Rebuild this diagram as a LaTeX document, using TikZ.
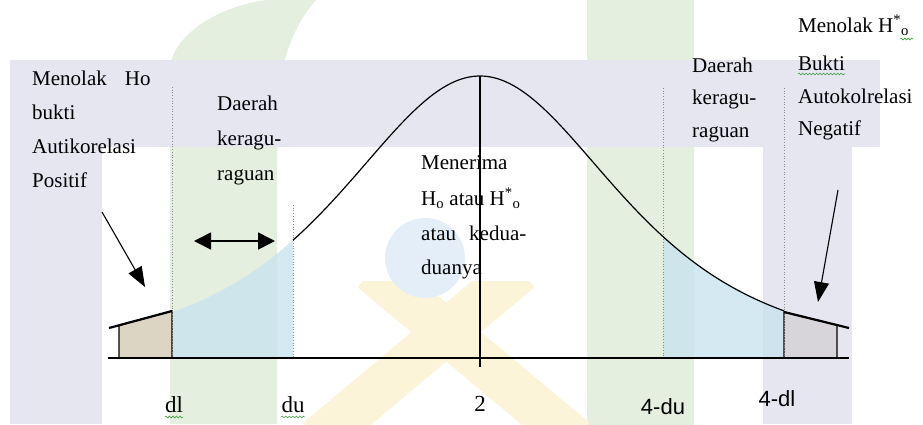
\documentclass[tikz,border=0pt]{standalone}
\usepackage{fontspec}
\setmainfont{Liberation Serif}
\newfontfamily\sansf{Liberation Sans}
\usetikzlibrary{arrows.meta,decorations.pathmorphing}
\definecolor{lav}{HTML}{E6E6F1}
\definecolor{wgreen}{HTML}{E4EFE0}
\definecolor{wyellow}{HTML}{FBF4D8}
\definecolor{wblue}{HTML}{E4EEF8}
\definecolor{doubtfill}{HTML}{C9E3EE}
\definecolor{lbox}{HTML}{DCD5C4}
\definecolor{rbox}{HTML}{D7D5D9}
\definecolor{spell}{HTML}{3C9A3C}
\begin{document}
\begin{tikzpicture}[x=1pt,y=-1pt,
  txt/.style={font=\fontsize{21}{25}\selectfont, anchor=base west, inner sep=0pt},
  lbl/.style={font=\fontsize{23}{27}\selectfont, anchor=base, inner sep=0pt},
  slbl/.style={font=\sansf\fontsize{22}{26}\selectfont, anchor=base, inner sep=0pt},
  axisline/.style={line width=1.3pt},
  guide/.style={dotted, black!45, line width=0.7pt},
  curveline/.style={line width=1.2pt},
  slant/.style={line width=2.2pt},
  boxedge/.style={line width=1.2pt},
  bigarrow/.style={line width=1.1pt, -{Triangle[length=20pt,width=15pt]}},
  dblarrow/.style={line width=1.6pt, {Triangle[length=17pt,width=17pt]}-{Triangle[length=17pt,width=17pt]}},
  wavy/.style={spell, line width=0.6pt, decorate, decoration={snake, amplitude=0.9pt, segment length=3.5pt}}
]
\useasboundingbox (0,0) rectangle (923,424);
% ---------- faint watermark background ----------
\begin{scope}
\clip (0,0) rectangle (923,424);
\fill[wgreen] (170,424) -- (170,70) .. controls (170,35) and (225,-2) .. (292,-2)
  -- (318,-2) .. controls (292,25) and (277,70) .. (277,120) -- (277,424) -- cycle;
\fill[wgreen, rounded corners=18pt] (587,-30) rectangle (694,460);
\fill[lav] (10,60) rectangle (880,147);
\fill[lav] (10,60) rectangle (102,424);
\fill[lav] (763,60) rectangle (852,424);
\begin{scope}
\clip (0,281) rectangle (923,424);
\draw[wyellow, line width=45pt] (372,270) -- (575,440);
\draw[wyellow, line width=45pt] (520,270) -- (318,440);
\end{scope}
\fill[wblue] (425,258) circle (40);
\end{scope}
% ---------- shaded regions ----------
\fill[doubtfill, opacity=0.8] (172,358) -- plot[domain=172:293, samples=40] (\x, {358-282/(1+((\x-480)/252.8)^2)^2}) -- (293,358) -- cycle;
\fill[doubtfill, opacity=0.8] (663,358) -- plot[domain=663:784, samples=40] (\x, {358-282/(1+((\x-480)/252.8)^2)^2}) -- (784,358) -- cycle;
\filldraw[fill=lbox, boxedge] (119,358) -- (119,325.3) -- (172,311) -- (172,358) -- cycle;
\filldraw[fill=rbox, boxedge] (784,358) -- (784,312) -- (837,325) -- (837,358) -- cycle;
% ---------- guides ----------
\coordinate (dlTop) at (172,87);
\coordinate (dlBot) at (172,358);
\coordinate (duTop) at (293,205);
\coordinate (duBot) at (293,358);
\coordinate (mduTop) at (663,88);
\coordinate (mduBot) at (663,358);
\coordinate (mdlTop) at (784,88);
\coordinate (mdlBot) at (784,358);
\draw[guide] (dlTop) -- (dlBot);
\draw[guide] (duTop) -- (duBot);
\draw[guide] (mduTop) -- (mduBot);
\draw[guide] (mdlTop) -- (mdlBot);
% ---------- curve and axis ----------
\coordinate (axL) at (108,358);
\coordinate (axR) at (849,358);
\draw[axisline] (axL) -- (axR);
\draw[curveline] plot[domain=293:784, samples=150] (\x, {358-282/(1+((\x-480)/252.8)^2)^2});
\coordinate (tailL) at (109,328);
\coordinate (tailLdl) at (172,311);
\coordinate (tailR) at (849,328);
\coordinate (tailRdl) at (784,312);
\draw[slant] (tailL) -- (tailLdl);
\draw[slant] (tailRdl) -- (tailR);
\coordinate (peak) at (480,76);
\coordinate (tick) at (480,367);
\draw[line width=1.1pt] (peak) -- (tick);
% ---------- arrows ----------
\coordinate (aLs) at (102,212);
\coordinate (aLe) at (145,287);
\draw[bigarrow] (aLs) -- (aLe);
\coordinate (aRs) at (838,190);
\coordinate (aRe) at (818,302);
\draw[bigarrow] (aRs) -- (aRe);
\coordinate (dA) at (194,241);
\coordinate (dB) at (275,241);
\draw[dblarrow] (dA) -- (dB);
% ---------- texts ----------
\node[txt] (l1) at (32,85) {Menolak\hspace{18pt}Ho};
\node[txt] (l2) at (32,119) {bukti};
\node[txt] (l3) at (32,153) {Autikorelasi};
\node[txt] (l4) at (32,187) {Positif};
\node[txt] (d1) at (217,110) {Daerah};
\node[txt] (d2) at (217,145) {keragu-};
\node[txt] (d3) at (217,180) {raguan};
\node[txt] (c1) at (421,169) {Menerima};
\node[txt] (c2) at (421,205) {H\textsubscript{o} atau H\textsuperscript{*}\textsubscript{o}};
\node[txt] (c3) at (421,240) {atau\hspace{13pt}kedua-};
\node[txt] (c4) at (421,274) {duanya};
\node[txt] (e1) at (692,72) {Daerah};
\node[txt] (e2) at (692,104) {keragu-};
\node[txt] (e3) at (692,137) {raguan};
\node[txt] (r1) at (798,32) {Menolak H\textsuperscript{*}\textsubscript{o}};
\node[txt] (r2) at (798,70) {Bukti};
\node[txt] (r3) at (798,103) {Autokolrelasi};
\node[txt] (r4) at (798,135) {Negatif};
\draw[wavy] ([yshift=-4pt]r2.base west) -- ([yshift=-4pt]r2.base east);
\draw[wavy] ([xshift=-9pt,yshift=-7pt]r1.base east) -- ([xshift=4pt,yshift=-7pt]r1.base east);
% ---------- axis labels ----------
\node[lbl] (ldl) at (174,412) {dl};
\node[lbl] (ldu) at (293,412) {du};
\node[lbl] (l2c) at (480,411) {2};
\node[slbl] (lmdu) at (663,414) {4-du};
\node[slbl] (lmdl) at (777,406) {4-dl};
\draw[wavy] ([yshift=-5pt]ldl.base west) -- ([yshift=-5pt]ldl.base east);
\draw[wavy] ([yshift=-5pt]ldu.base west) -- ([yshift=-5pt]ldu.base east);
\end{tikzpicture}
\end{document}
